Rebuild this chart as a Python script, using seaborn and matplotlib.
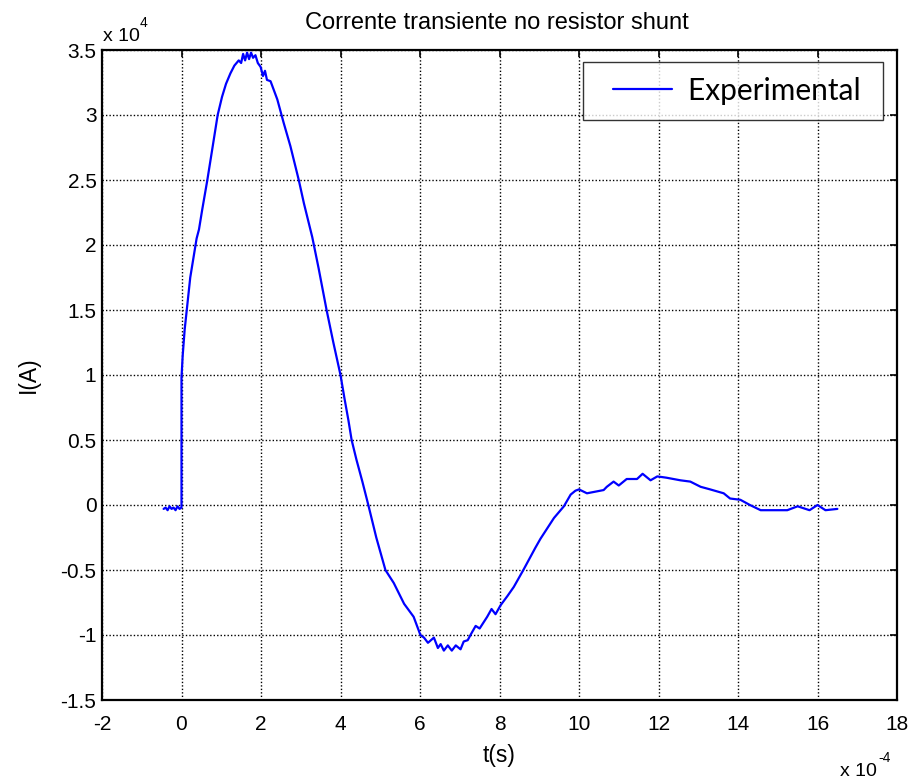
import matplotlib
matplotlib.use("Agg")
import matplotlib.pyplot as plt
from matplotlib.legend_handler import HandlerLine2D
import seaborn as sns
import pandas as pd

# time in units of 1e-4 s, current in units of 1e4 A
t_e4 = [-0.45, -0.4, -0.35, -0.3, -0.25, -0.2, -0.15, -0.1, -0.05, 0.0, 0.0, 0.03, 0.08, 0.15,
        0.22, 0.3, 0.38, 0.44, 0.52, 0.65, 0.77, 0.91, 1.02, 1.12, 1.23, 1.33, 1.44, 1.5, 1.55,
        1.6, 1.65, 1.7, 1.75, 1.8, 1.86, 1.92, 1.99, 2.05, 2.1, 2.15, 2.24, 2.41, 2.57, 2.74,
        2.95, 3.08, 3.29, 3.45, 3.65, 3.82, 4.0, 4.1, 4.2, 4.28, 4.4, 4.55, 4.7, 4.9, 5.13,
        5.34, 5.6, 5.84, 6.01, 6.1, 6.2, 6.35, 6.45, 6.52, 6.6, 6.7, 6.8, 6.9, 7.02, 7.1, 7.2,
        7.27, 7.4, 7.5, 7.69, 7.8, 7.9, 8.03, 8.2, 8.36, 8.6, 8.9, 9.03, 9.2, 9.37, 9.62, 9.79,
        9.91, 10.0, 10.2, 10.62, 10.7, 10.87, 11.0, 11.2, 11.46, 11.6, 11.8, 11.97, 12.2, 12.55,
        12.8, 13.06, 13.3, 13.64, 13.8, 14.06, 14.3, 14.57, 14.8, 15.24, 15.5, 15.8, 16.0,
        16.2, 16.5]
i_e4 = [-0.03, -0.02, -0.04, -0.01, -0.03, -0.02, -0.04, -0.01, -0.03, -0.02, 0.98, 1.15, 1.35,
        1.55, 1.75, 1.9, 2.05, 2.12, 2.27, 2.5, 2.73, 3.0, 3.14, 3.24, 3.32, 3.38, 3.42, 3.40,
        3.47, 3.42, 3.48, 3.43, 3.48, 3.44, 3.46, 3.40, 3.37, 3.30, 3.34, 3.27, 3.26, 3.12,
        2.94, 2.76, 2.5, 2.32, 2.06, 1.82, 1.5, 1.25, 1.0, 0.82, 0.65, 0.5, 0.35, 0.18, 0.0,
        -0.25, -0.5, -0.6, -0.76, -0.86, -1.0, -1.02, -1.06, -1.02, -1.1, -1.07, -1.12, -1.08,
        -1.12, -1.08, -1.11, -1.05, -1.04, -1.0, -0.93, -0.95, -0.86, -0.8, -0.84, -0.77, -0.7,
        -0.63, -0.5, -0.33, -0.26, -0.18, -0.1, -0.01, 0.08, 0.11, 0.12, 0.09, 0.115, 0.14,
        0.18, 0.15, 0.2, 0.2, 0.24, 0.19, 0.22, 0.21, 0.19, 0.18, 0.14, 0.12, 0.09, 0.05, 0.04,
        0.0, -0.04, -0.04, -0.04, -0.01, -0.04, 0.0, -0.04, -0.03]

x_ticks = [-2, 0, 2, 4, 6, 8, 10, 12, 14, 16, 18]
y_ticks = [-1.5, -1, -0.5, 0, 0.5, 1, 1.5, 2, 2.5, 3, 3.5]
y_tick_labels = ["-1.5", "-1", "-0.5", "0", "0.5", "1", "1.5", "2", "2.5", "3", "3.5"]

df = pd.DataFrame({"t": t_e4, "I": i_e4, "serie": "Experimental"})

sns.set_theme(style="white")
plt.rcParams["font.family"] = ["Liberation Sans", "DejaVu Sans"]
plt.rcParams["text.color"] = "black"
plt.rcParams["axes.labelcolor"] = "black"

W, H = 920, 781
fig = plt.figure(figsize=(9.2, 7.81), dpi=100)
ax = fig.add_axes([102 / W, 1 - 700 / H, 795 / W, 650 / H])

sns.lineplot(data=df, x="t", y="I", hue="serie", palette={"Experimental": "#0000ff"},
             estimator=None, sort=False, linewidth=1.6, ax=ax, legend=False)
line = ax.lines[0]

ax.set_xlim(-2, 18)
ax.set_ylim(-1.5, 3.5)
ax.set_xticks(x_ticks)
ax.set_xticklabels([str(v) for v in x_ticks])
ax.set_yticks(y_ticks)
ax.set_yticklabels(y_tick_labels)
ax.grid(True, color="black", linestyle=(0, (1, 1.5)), linewidth=1.0)
ax.set_axisbelow(True)
for s in ax.spines.values():
    s.set_color("black")
    s.set_linewidth(1.6)
ax.tick_params(direction="in", length=5, width=1.2, top=True, right=True,
               labelsize=15, colors="black")
ax.tick_params(axis="x", pad=11)
ax.tick_params(axis="y", pad=4)

fig.text(497 / W, 1 - 23 / H, "Corrente transiente no resistor shunt", fontsize=17,
         ha="center", va="center", color="black")
ax.set_xlabel("t(s)", fontsize=16.5, color="black")
ax.xaxis.set_label_coords(0.5, (700 - 744) / 650)
ax.set_ylabel("I(A)", fontsize=16.5, color="black")
ax.yaxis.set_label_coords((40 - 102) / 795, 0.5)

# exponent labels (MATLAB style)
fig.text(103 / W, 1 - 41 / H, "x 10", fontsize=14, ha="left", va="baseline", color="black")
fig.text(140 / W, 1 - 27 / H, "4", fontsize=10, ha="left", va="baseline", color="black")
fig.text(877 / W, 1 - 776 / H, "x 10", fontsize=14, ha="right", va="baseline", color="black")
fig.text(878 / W, 1 - 762 / H, "-4", fontsize=10, ha="left", va="baseline", color="black")


class ShiftedLineHandler(HandlerLine2D):
    def create_artists(self, legend, orig_handle, xdescent, ydescent, width, height,
                       fontsize, trans):
        arts = super().create_artists(legend, orig_handle, xdescent, ydescent, width,
                                      height, fontsize, trans)
        for a in arts:
            yd = list(a.get_ydata())
            if len(yd) >= 2:
                a.set_data([width * 0.2 - xdescent, width - xdescent], [yd[0], yd[0]])
        return arts


leg = ax.legend([line], ["Experimental "], loc="upper right",
                bbox_to_anchor=((883 - 102) / 795, (700 - 62) / 650),
                frameon=True, fancybox=False, prop={"family": "Lato", "size": 21.5},
                handlelength=2.5, borderpad=0.5, handletextpad=0.52, borderaxespad=0,
                handler_map={line: ShiftedLineHandler()}, labelcolor="black")
leg.get_frame().set_edgecolor("black")
leg.get_frame().set_linewidth(1.0)

fig.savefig("out.png", dpi=100)
